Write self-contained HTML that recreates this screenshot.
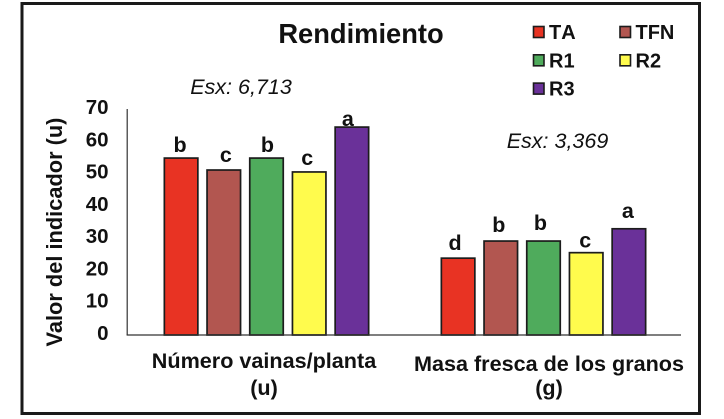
<!DOCTYPE html>
<html lang="es">
<head>
<meta charset="utf-8">
<title>Rendimiento</title>
<style>
html,body{margin:0;padding:0;background:#fff;width:724px;height:419px;overflow:hidden}
svg{display:block;font-family:"Liberation Sans",Arial,sans-serif}
text{fill:#111}
.b{font-weight:700}
</style>
</head>
<body>
<svg id="chart" xmlns="http://www.w3.org/2000/svg" width="724" height="419" viewBox="0 0 724 419">
<rect x="22" y="3.5" width="677.5" height="410" fill="#fff" stroke="#1a1a1a" stroke-width="3"/>
<text class="b" x="361" y="43" font-size="27.3" text-anchor="middle">Rendimiento</text>
<text x="241" y="94" font-size="21.5" font-style="italic" text-anchor="middle">Esx: 6,713</text>
<text x="557.5" y="148" font-size="21.5" font-style="italic" text-anchor="middle">Esx: 3,369</text>
<text class="b" transform="translate(62,232) rotate(-90)" font-size="21.8" text-anchor="middle">Valor del indicador (u)</text>
<g id="marks"></g>
<g id="axes"></g>
<g id="legend"></g>
</svg>
<script>
const categories = [["Número vainas/planta", "(u)"], ["Masa fresca de los granos", "(g)"]];
const seriesNames = ["TA", "TFN", "R1", "R2", "R3"];
const seriesColors = ["#e83323", "#b25650", "#4fab5c", "#fffb4d", "#6a3199"];
const seriesTA = [54.8, 23.8];
const seriesTFN = [51.1, 29.1];
const seriesR1 = [54.8, 29.1];
const seriesR2 = [50.5, 25.5];
const seriesR3 = [64.4, 32.9];
const lettersTA = ["b", "d"];
const lettersTFN = ["c", "b"];
const lettersR1 = ["b", "b"];
const lettersR2 = ["c", "c"];
const lettersR3 = ["a", "a"];
const yTicks = [0, 10, 20, 30, 40, 50, 60, 70];

const allSeries = [seriesTA, seriesTFN, seriesR1, seriesR2, seriesR3];
const allLetters = [lettersTA, lettersTFN, lettersR1, lettersR2, lettersR3];
const NS = "http://www.w3.org/2000/svg";
const plotLeft = 128, plotRight = 682, plotBase = 335, plotTop = 109, yMax = 70;
const yScale = function (v) { return plotBase - v / yMax * (plotBase - plotTop); };
const bandCenter = function (c) { return plotLeft + (c + 0.5) * (plotRight - plotLeft) / categories.length; };
const barStep = 42.7, barWidth = 33.5;
const barX = function (c, s) { return bandCenter(c) + (s - (seriesNames.length - 1) / 2) * barStep - barWidth / 2; };
const make = function (tag, attrs, parent, txt) {
  const el = document.createElementNS(NS, tag);
  for (const k in attrs) el.setAttribute(k, attrs[k]);
  if (txt !== undefined) el.textContent = txt;
  parent.appendChild(el);
  return el;
};
const letterNudge = function (c, s) {
  const gap = c === 0 ? [6, 8, 6, 7, 1][s] : [8, 9, 11, 5, 11][s];
  const shift = c === 0 ? [-1, 2, 1, -2, -4][s] : [-3, -2, -3, -1, -1][s];
  return {gap: gap, shift: shift};
};
const marks = document.getElementById("marks");
const axes = document.getElementById("axes");
const legend = document.getElementById("legend");

allSeries.forEach(function (values, s) {
  values.forEach(function (v, c) {
    const bar = make("rect", {x: barX(c, s), y: yScale(v), width: barWidth, height: plotBase - yScale(v), fill: seriesColors[s], stroke: "#1c1c1c", "stroke-width": 1.7}, marks);
    
    
    const n = letterNudge(c, s);
    const lab = make("text", {x: barX(c, s) + barWidth / 2 + n.shift, y: yScale(v) - n.gap, "font-size": 21.5, "text-anchor": "middle", "class": "b"}, marks, allLetters[s][c]);
    
    
  });
});

const yAxis = make("line", {x1: plotLeft - 0.8, x2: plotLeft - 0.8, y1: plotTop, y2: plotBase, stroke: "#333", "stroke-width": 1.2}, axes);


const xAxis = make("line", {x1: plotLeft - 1.4, x2: plotRight - 1, y1: plotBase, y2: plotBase, stroke: "#333", "stroke-width": 1.2}, axes);



yTicks.forEach(function (t) {
  const tick = make("text", {x: 108.5, y: yScale(t) + 5, "font-size": 20.5, "text-anchor": "end", "class": "b"}, axes, String(t));
  
  
});

categories.forEach(function (lines, c) {
  lines.forEach(function (line, i) {
    const cat = make("text", {x: c === 0 ? 264 : 549, y: i === 0 ? (c === 0 ? 368 : 371) : 395, "font-size": 21.6, "text-anchor": "middle", "class": "b"}, axes, line);
    
    
  });
});

seriesNames.forEach(function (name, s) {
  const col = s % 2, row = Math.floor(s / 2);
  const lx = 533.5 + col * 86.5, ly = 26.5 + row * 28.3;
  const sw = make("rect", {x: lx, y: ly, width: 10.5, height: 11, fill: seriesColors[s], stroke: "#1c1c1c", "stroke-width": 1.6}, legend);
  
  
  const tx = make("text", {x: lx + 15.5, y: ly + 12.5, "font-size": 20, "class": "b", style: "font-kerning:none"}, legend, name);
  
  
});
</script>
</body>
</html>
